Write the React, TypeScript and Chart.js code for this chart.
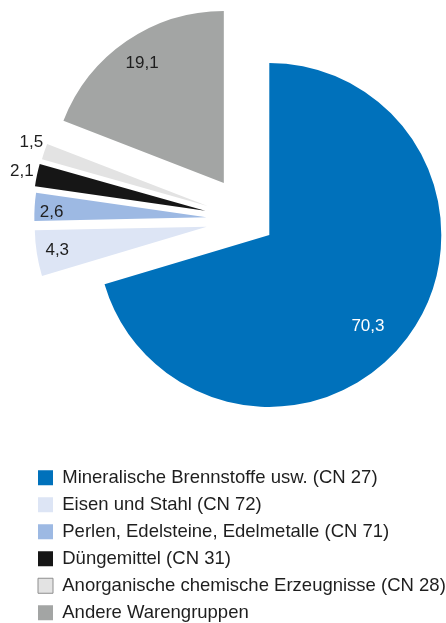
import React, { useEffect, useRef } from "react";
import { Chart, registerables } from "chart.js";

Chart.register(...registerables);

const categories: string[] = [
  "Mineralische Brennstoffe usw. (CN 27)",
  "Eisen und Stahl (CN 72)",
  "Perlen, Edelsteine, Edelmetalle (CN 71)",
  "Düngemittel (CN 31)",
  "Anorganische chemische Erzeugnisse (CN 28)",
  "Andere Warengruppen",
];

const shares: number[] = [70.3, 4.3, 2.6, 2.1, 1.5, 19.1];

const valueLabels: string[] = ["70,3", "4,3", "2,6", "2,1", "1,5", "19,1"];

const sliceColors: string[] = ["#0071bb", "#dde5f5", "#9db9e3", "#161616", "#e3e3e3", "#a3a5a4"];
const legendBorders: string[] = ["#0071bb", "#dde5f5", "#9db9e3", "#161616", "#8e8e8e", "#a3a5a4"];
const labelColors: string[] = ["#ffffff", "#1e1e1e", "#1e1e1e", "#1e1e1e", "#1e1e1e", "#1e1e1e"];

// styling: radial explode distance (px), label radius factor and label angle shift (deg) per slice
const explodeDist: number[] = [25, 43, 43, 45, 44, 45];
const labelRadiusFactor: number[] = [0.78, 0.88, 0.9, 1.09, 1.09, 0.84];
const labelAngleShift: number[] = [6, 0, -1.5, 0, 1.5, 0];

const FONT = "'Liberation Sans', Arial, Helvetica, sans-serif";

const explodePlugin = {
  id: "explodeSlices",
  afterDatasetsUpdate(chart: any) {
    const meta = chart.getDatasetMeta(0);
    meta.data.forEach((arc: any, i: number) => {
      const mid = (arc.startAngle + arc.endAngle) / 2;
      const d = explodeDist[i] || 0;
      arc.x += Math.cos(mid) * d;
      arc.y += Math.sin(mid) * d;
    });
  },
};

const valueLabelPlugin = {
  id: "valueLabels",
  afterDatasetsDraw(chart: any) {
    const ctx = chart.ctx;
    const meta = chart.getDatasetMeta(0);
    ctx.save();
    ctx.font = `17px ${FONT}`;
    ctx.textAlign = "center";
    ctx.textBaseline = "middle";
    meta.data.forEach((arc: any, i: number) => {
      const mid = (arc.startAngle + arc.endAngle) / 2 + (labelAngleShift[i] * Math.PI) / 180;
      const r = arc.outerRadius * labelRadiusFactor[i];
      ctx.fillStyle = labelColors[i];
      ctx.fillText(valueLabels[i], arc.x + Math.cos(mid) * r, arc.y + Math.sin(mid) * r);
    });
    ctx.restore();
  },
};

export default function App() {
  const canvasRef = useRef<HTMLCanvasElement | null>(null);

  useEffect(() => {
    if (!canvasRef.current) return;
    const chart = new Chart(canvasRef.current, {
      type: "pie",
      data: {
        labels: categories,
        datasets: [
          {
            data: shares,
            backgroundColor: sliceColors,
            borderWidth: 0,
            radius: 172,
          } as any,
        ],
      },
      options: {
        animation: false,
        responsive: true,
        maintainAspectRatio: false,
        events: [],
        layout: { padding: { left: 29.5, right: 0, top: 0, bottom: 0 } },
        plugins: {
          tooltip: { enabled: false },
          legend: {
            position: "bottom",
            align: "start",
            labels: {
              boxWidth: 15,
              boxHeight: 15,
              padding: 8.5,
              color: "#1e1e1e",
              font: { size: 18.5, family: FONT },
              generateLabels: (c: any) =>
                c.data.labels.map((t: string, i: number) => ({
                  text: t,
                  fillStyle: sliceColors[i],
                  strokeStyle: legendBorders[i],
                  lineWidth: i === 4 ? 1 : 0,
                  fontColor: "#1e1e1e",
                  hidden: false,
                  index: i,
                })),
            },
          },
        },
      },
      plugins: [explodePlugin, valueLabelPlugin],
    });
    return () => chart.destroy();
  }, []);

  return (
    <div
      style={{
        position: "fixed",
        left: 0,
        top: 0,
        width: 446,
        height: 623,
        overflow: "hidden",
        background: "#ffffff",
      }}
    >
      <div style={{ position: "absolute", left: 0, top: -20, width: 469, height: 652 }}>
        <canvas ref={canvasRef} style={{ display: "block" }} />
      </div>
    </div>
  );
}
